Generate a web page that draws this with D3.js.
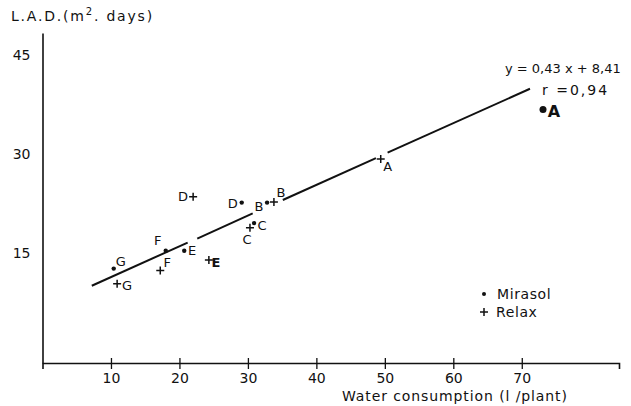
<!DOCTYPE html>
<html>
<head>
<meta charset="utf-8">
<script src="https://cdn.jsdelivr.net/npm/d3@7"></script>
<style>
  body { margin: 0; background: #fff; }
  svg { display: block; }
  text { font-family: "DejaVu Sans", sans-serif; fill: #111; }
</style>
</head>
<body>
<div id="chart"></div>
<script>
// data
var letters  = ["A", "B", "C", "D", "E", "F", "G"];
var mirasolX = [73.1, 32.8, 30.9, 29.1, 20.7, 18.0, 10.4];
var mirasolY = [36.7, 22.6, 19.5, 22.6, 15.3, 15.3, 12.6];
var relaxX   = [49.4, 33.8, 30.3, 22.0, 24.3, 17.2, 10.9];
var relaxY   = [29.2, 22.7, 18.8, 23.5, 13.9, 12.3, 10.3];

// regression line, drawn in pieces (gaps left around the labels)
var fitX = [7.2, 21.2, 22.6, 30.7, 35.1, 48.7, 50.4, 71.2];
var fitY = [10.0, 16.55, 17.15, 20.97, 23.0, 29.35, 30.17, 39.85];

var xTicks = [10, 20, 30, 40, 50, 60, 70];
var yTicks = [15, 30, 45];

// label placement next to each marker (pixels)
var labelOffset = {
  "Mirasol A": [11, 2],  "Relax A": [7, 7],
  "Mirasol B": [-8, 4],  "Relax B": [7, -9],
  "Mirasol C": [8, 2],   "Relax C": [-3, 12],
  "Mirasol D": [-9, 1],  "Relax D": [-10, 0],
  "Mirasol E": [8, 0],   "Relax E": [7, 2],
  "Mirasol F": [-8, -10],"Relax F": [7, -8],
  "Mirasol G": [7, -7],  "Relax G": [10, 2]
};

var W = 631, H = 406;

var svg = d3.select("#chart").append("svg")
  .attr("width", W).attr("height", H);

var x = d3.scaleLinear().domain([0, 84.2]).range([42.5, 619]);
var y = d3.scaleLinear().domain([-1.7, 48.3]).range([363, 33]);

// x axis, ticks crossing the line
var gx = svg.append("g")
  .attr("transform", "translate(0," + y(-1.7) + ")")
  .call(d3.axisBottom(x).tickValues(xTicks).tickSizeOuter(0).tickSize(6).tickPadding(4));
gx.select(".domain").attr("stroke", "#111").attr("stroke-width", 1.6);
gx.selectAll(".tick line").attr("y1", -5).attr("y2", 6).attr("stroke", "#111").attr("stroke-width", 1.3);
gx.selectAll(".tick text").attr("font-size", 14).attr("fill", "#111");

// y axis, no ticks
var gy = svg.append("g")
  .attr("transform", "translate(" + x(0) + ",0)")
  .call(d3.axisLeft(y).tickValues(yTicks).tickSize(0).tickSizeOuter(0).tickPadding(12));
gy.select(".domain").attr("stroke", "#111").attr("stroke-width", 1.6);
gy.selectAll(".tick text").attr("font-size", 14).attr("fill", "#111");

// axis titles
var yt = svg.append("text").attr("x", 11).attr("y", 21).attr("font-size", 14)
  .attr("letter-spacing", 1.8);
yt.append("tspan").text("L.A.D.(m");
yt.append("tspan").attr("font-size", 10).attr("dy", -6).text("2");
yt.append("tspan").attr("dy", 6).text(". days)");

svg.append("text").attr("x", 342).attr("y", 401).attr("font-size", 14)
  .attr("letter-spacing", 0.9)
  .text("Water consumption (l /plant)");

// regression line
var line = d3.line().x(function (d) { return x(d[0]); }).y(function (d) { return y(d[1]); });
for (var i = 0; i < fitX.length; i += 2) {
  svg.append("path")
    .attr("d", line([[fitX[i], fitY[i]], [fitX[i + 1], fitY[i + 1]]]))
    .attr("fill", "none").attr("stroke", "#111").attr("stroke-width", 2);
}

svg.append("text").attr("x", 505).attr("y", 73).attr("font-size", 13).text("y = 0,43 x + 8,41");
svg.append("text").attr("x", 542).attr("y", 95).attr("font-size", 14)
  .attr("letter-spacing", 2).text("r =0,94");

// markers
function drawDot(g, px, py, r) {
  g.append("circle").attr("cx", px).attr("cy", py).attr("r", r).attr("fill", "#111");
}
function drawPlus(g, px, py) {
  g.append("path")
    .attr("d", "M" + (px - 4) + "," + py + "H" + (px + 4) + "M" + px + "," + (py - 4) + "V" + (py + 4))
    .attr("stroke", "#111").attr("stroke-width", 1.5).attr("fill", "none");
}

var pts = svg.append("g");
letters.forEach(function (L, i) {
  var big = (L === "A");
  var mx = x(mirasolX[i]), my = y(mirasolY[i]);
  drawDot(pts, mx, my, big ? 3.5 : 2.2);
  var o = labelOffset["Mirasol " + L];
  pts.append("text").attr("x", mx + o[0]).attr("y", my + o[1])
    .attr("text-anchor", "middle").attr("dominant-baseline", "central")
    .attr("font-size", big ? 16 : 13).attr("font-weight", big ? "bold" : null).text(L);

  var rx = x(relaxX[i]), ry = y(relaxY[i]);
  drawPlus(pts, rx, ry);
  var q = labelOffset["Relax " + L];
  pts.append("text").attr("x", rx + q[0]).attr("y", ry + q[1])
    .attr("text-anchor", "middle").attr("dominant-baseline", "central")
    .attr("font-size", 13).attr("font-weight", L === "E" ? "bold" : null).text(L);
});

// legend
var lg = svg.append("g");
drawDot(lg, 484, 294, 2);
lg.append("text").attr("x", 497).attr("y", 294).attr("dominant-baseline", "central")
  .attr("font-size", 14).attr("letter-spacing", 0.6).text("Mirasol");
drawPlus(lg, 484, 312);
lg.append("text").attr("x", 496).attr("y", 312).attr("dominant-baseline", "central")
  .attr("font-size", 14).attr("letter-spacing", 0.6).text("Relax");
</script>
</body>
</html>
